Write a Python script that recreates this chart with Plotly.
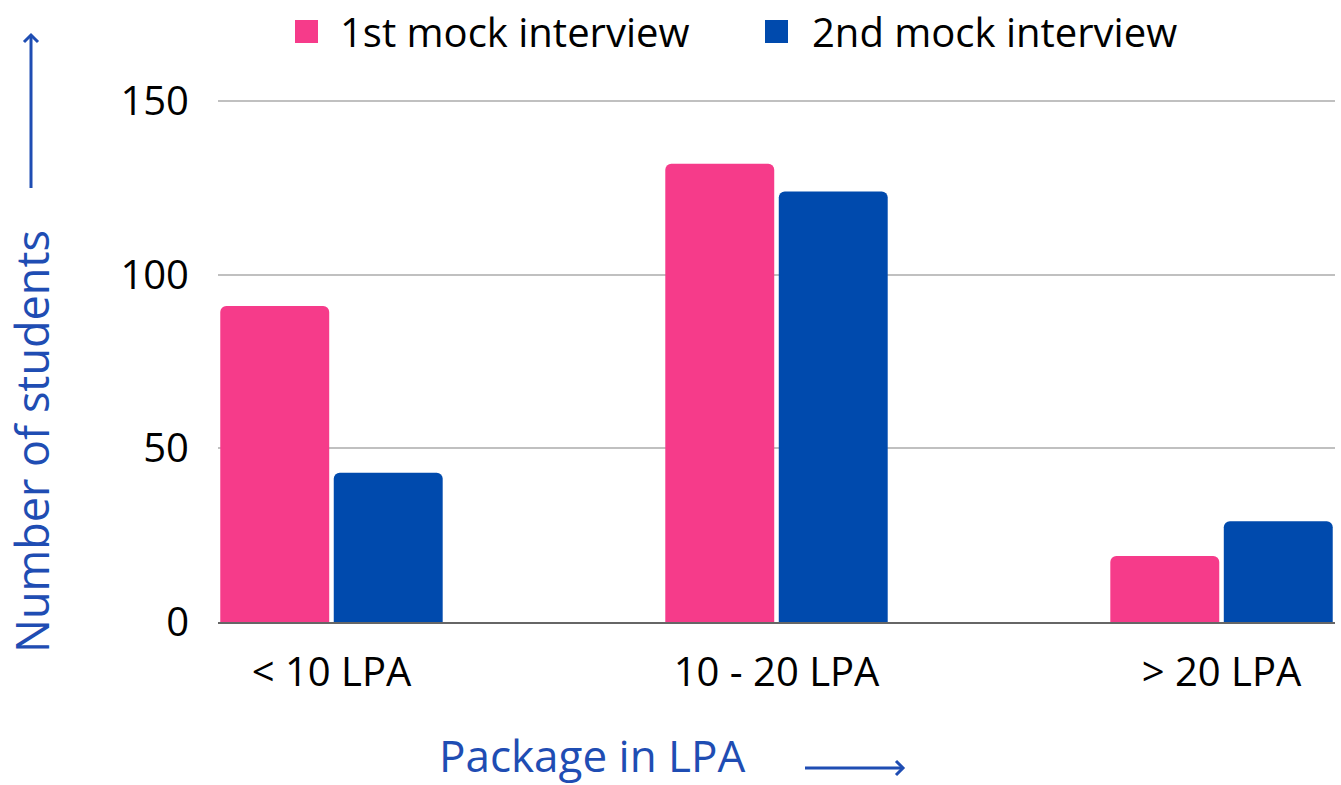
import plotly.graph_objects as go

categories = ["< 10 LPA", "10 - 20 LPA", "> 20 LPA"]
series_names = ["1st mock interview", "2nd mock interview"]
first_mock = [91, 132, 19]
second_mock = [43, 124, 29]
y_ticks = [0, 50, 100, 150]

PINK = "#F63B8A"
BLUE = "#004AAD"
TITLE_BLUE = "#1F4DB3"
FONT = "Open Sans"

W, H = 1341, 785
L, R, T, B = 218, 6, 96, 163
PW, PH = W - L - R, H - T - B


def px(xp):
    return (xp - L) / PW


def py(yp):
    return (H - B - yp) / PH


fig = go.Figure()
fig.add_trace(go.Bar(x=categories, y=first_mock, name=series_names[0],
                     marker=dict(color=PINK, line=dict(width=0)), showlegend=False))
fig.add_trace(go.Bar(x=categories, y=second_mock, name=series_names[1],
                     marker=dict(color=BLUE, line=dict(width=0)), showlegend=False))

shapes = []
annotations = []

# manual legend (large squares)
legend_items = [(series_names[0], PINK, 295, 338), (series_names[1], BLUE, 765, 810)]
for name, col, sx, tx in legend_items:
    shapes.append(dict(type="rect", xref="paper", yref="paper",
                       x0=px(sx), x1=px(sx + 23), y0=py(43), y1=py(20),
                       fillcolor=col, line=dict(width=0)))
    annotations.append(dict(text=name, xref="paper", yref="paper", x=px(tx), y=py(31),
                            xanchor="left", yanchor="middle", showarrow=False,
                            font=dict(family=FONT, size=40, color="#000000")))

# axis titles
annotations.append(dict(text="Number of students", xref="paper", yref="paper",
                        x=px(31), y=py(442), textangle=-90, xanchor="center", yanchor="middle",
                        showarrow=False, font=dict(family=FONT, size=45, color=TITLE_BLUE)))
annotations.append(dict(text="Package in LPA", xref="paper", yref="paper",
                        x=px(592), y=py(787), xanchor="center", yanchor="bottom",
                        showarrow=False, font=dict(family=FONT, size=44, color=TITLE_BLUE)))

# arrows
aw = 3
shapes += [
    dict(type="line", xref="paper", yref="paper", x0=px(31), x1=px(31), y0=py(188), y1=py(35),
         line=dict(color=TITLE_BLUE, width=aw)),
    dict(type="path", xref="paper", yref="paper",
         path=f"M {px(24)} {py(42)} L {px(31)} {py(35)} L {px(38)} {py(42)}",
         line=dict(color=TITLE_BLUE, width=aw)),
    dict(type="line", xref="paper", yref="paper", x0=px(805), x1=px(903), y0=py(768), y1=py(768),
         line=dict(color=TITLE_BLUE, width=aw)),
    dict(type="path", xref="paper", yref="paper",
         path=f"M {px(896)} {py(761)} L {px(903)} {py(768)} L {px(896)} {py(775)}",
         line=dict(color=TITLE_BLUE, width=aw)),
]

fig.update_layout(
    width=W, height=H,
    margin=dict(l=L, r=R, t=T, b=B, pad=0),
    paper_bgcolor="white", plot_bgcolor="white",
    barmode="group", bargap=0.49, bargroupgap=0.04, barcornerradius=6,
    showlegend=False,
    font=dict(family=FONT, size=40, color="#000000"),
    shapes=shapes, annotations=annotations,
    xaxis=dict(range=[-0.255, 2.255], showgrid=False, showline=True,
               linecolor="#666666", linewidth=2, ticks="", ticklabelstandoff=14,
               tickfont=dict(family=FONT, size=40, color="#000000")),
    yaxis=dict(range=[0, 151.5], tickvals=y_ticks, showgrid=True, gridcolor="#C0C0C0",
               gridwidth=2, zeroline=False, showline=False, ticks="",
               ticklabelstandoff=28,
               tickfont=dict(family=FONT, size=40, color="#000000")),
)

fig.write_html("out.html", config={"displayModeBar": False},
               post_script="document.body.style.margin='0';document.body.style.overflow='hidden';")
